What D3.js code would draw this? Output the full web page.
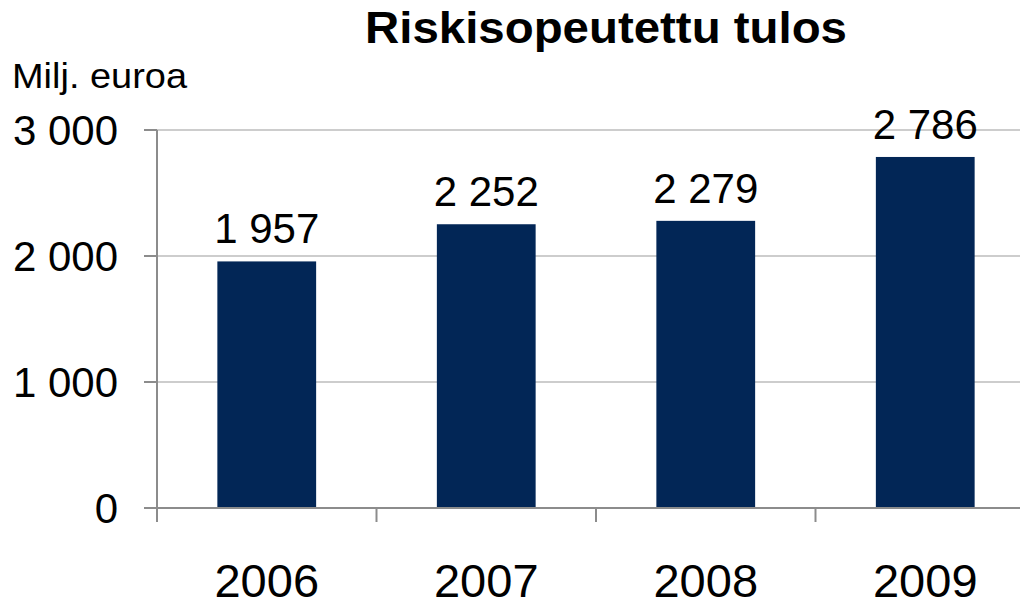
<!DOCTYPE html>
<html><head><meta charset="utf-8">
<script src="https://cdn.jsdelivr.net/npm/d3@7"></script>
<style>body{margin:0;background:#fff}svg{display:block}text{font-family:"Liberation Sans",Arial,sans-serif;fill:#000}</style>
</head><body>
<script>
const title = "Riskisopeutettu tulos";
const unitLabel = "Milj. euroa";
const years = ["2006", "2007", "2008", "2009"];
const values = [1957, 2252, 2279, 2786];
const valueLabels = ["1 957", "2 252", "2 279", "2 786"];
const yTicks = [0, 1000, 2000, 3000];
const yTickLabels = ["0", "1 000", "2 000", "3 000"];

const W = 1020, H = 599;
const svg = d3.select("body").append("svg").attr("width", W).attr("height", H);

const x = d3.scaleBand().domain(years).range([157, 1035]).paddingInner(0.55).paddingOuter(0.275);
const y = d3.scaleLinear().domain([0, 3000]).range([508, 130]);

// gridlines
svg.append("g").selectAll("line").data(yTicks.filter(d => d > 0)).join("line")
  .attr("x1", 157).attr("x2", W).attr("y1", d => y(d)).attr("y2", d => y(d))
  .attr("stroke", "#bdbdbd").attr("stroke-width", 1.3);

// bars
svg.append("g").selectAll("rect").data(values).join("rect")
  .attr("x", (d, i) => x(years[i])).attr("width", x.bandwidth())
  .attr("y", d => y(d)).attr("height", d => y(0) - y(d))
  .attr("fill", "#022656");

// y axis
const axisColor = "#8c8c8c";
svg.append("line").attr("x1", 157).attr("x2", 157).attr("y1", y(3000)).attr("y2", 522)
  .attr("stroke", axisColor).attr("stroke-width", 2);
svg.append("g").selectAll("line").data(yTicks).join("line")
  .attr("x1", 144).attr("x2", 157).attr("y1", d => y(d)).attr("y2", d => y(d))
  .attr("stroke", axisColor).attr("stroke-width", 2);
svg.append("g").selectAll("text").data(yTicks).join("text")
  .attr("x", 118).attr("y", d => y(d) + 15)
  .attr("text-anchor", "end").attr("font-size", 42)
  .text((d, i) => yTickLabels[i]);

// x axis
svg.append("line").attr("x1", 144).attr("x2", 1035).attr("y1", y(0)).attr("y2", y(0))
  .attr("stroke", axisColor).attr("stroke-width", 2);
const step = x.step();
const tickXs = years.map(d => x(d) - x.paddingOuter() * step * 0 - (step - x.bandwidth()) / 2);
svg.append("g").selectAll("line").data(tickXs).join("line")
  .attr("x1", d => d).attr("x2", d => d).attr("y1", y(0)).attr("y2", 522)
  .attr("stroke", axisColor).attr("stroke-width", 2);
svg.append("g").selectAll("text").data(years).join("text")
  .attr("x", d => x(d) + x.bandwidth() / 2).attr("y", 597)
  .attr("text-anchor", "middle").attr("font-size", 47)
  .text(d => d);

// value labels
svg.append("g").selectAll("text").data(values).join("text")
  .attr("x", (d, i) => x(years[i]) + x.bandwidth() / 2).attr("y", d => y(d) - 18)
  .attr("text-anchor", "middle").attr("font-size", 42)
  .text((d, i) => valueLabels[i]);

// title
svg.append("text").attr("x", 606).attr("y", 43).attr("text-anchor", "middle")
  .attr("font-size", 45).attr("font-weight", "bold")
  .attr("textLength", 482).attr("lengthAdjust", "spacingAndGlyphs")
  .text(title);
svg.append("text").attr("x", 12).attr("y", 88).attr("font-size", 35)
  .attr("textLength", 175).attr("lengthAdjust", "spacingAndGlyphs")
  .text(unitLabel);
</script>
</body></html>
